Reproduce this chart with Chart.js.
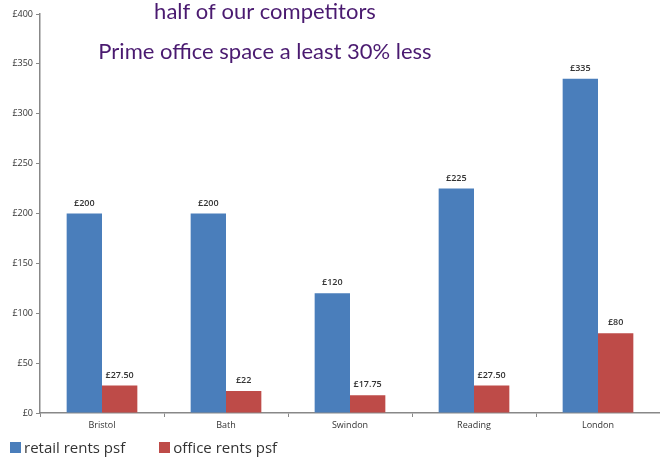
<!DOCTYPE html>
<html>
<head>
<meta charset="utf-8">
<script src="https://cdn.jsdelivr.net/npm/chart.js@4"></script>
<style>
  body { margin: 0; background: #fff; }
  #wrap { width: 660px; height: 459px; position: relative; }
  #legend { position: absolute; left: 10px; top: 437px; font: 15px "Open Sans"; color: #333; display: flex; }
  #legend span.item { display: flex; align-items: center; margin-right: 34px; }
  #legend i { display: inline-block; width: 11px; height: 11px; margin-right: 3px; }
</style>
</head>
<body>
<div id="wrap"><canvas id="rentChart"></canvas><div id="legend"></div></div>
<script>
const towns = ['Bristol', 'Bath', 'Swindon', 'Reading', 'London'];
const retailRents = [200, 200, 120, 225, 335];
const officeRents = [27.5, 22, 17.75, 27.5, 80];
const retailLabels = ['£200', '£200', '£120', '£225', '£335'];
const officeLabels = ['£27.50', '£22', '£17.75', '£27.50', '£80'];
const titleLines = ['half of our competitors', 'Prime office space a least 30% less'];

const barLabels = {
    id: 'barLabels',
    afterDatasetsDraw(chart) {
        const ctx = chart.ctx;
        ctx.save();
        ctx.font = '600 9px "Open Sans"';
        ctx.fillStyle = '#333';
        ctx.textAlign = 'center';
        ctx.textBaseline = 'bottom';
        const texts = [retailLabels, officeLabels];
        chart.data.datasets.forEach((ds, i) => {
            chart.getDatasetMeta(i).data.forEach((bar, j) => {
                ctx.fillText(texts[i][j], bar.x, bar.y - 6);
            });
        });
        ctx.restore();
    }
};

const headline = {
    id: 'headline',
    afterDraw(chart) {
        const ctx = chart.ctx;
        ctx.save();
        ctx.font = '22px Lato';
        ctx.fillStyle = '#4a1a70';
        ctx.textAlign = 'center';
        ctx.textBaseline = 'middle';
        ctx.fillText(titleLines[0], 265, 12);
        ctx.fillText(titleLines[1], 265, 52);
        ctx.restore();
    }
};

const chart = new Chart(document.getElementById('rentChart'), {
    type: 'bar',
    data: {
        labels: towns,
        datasets: [
            { label: 'retail rents psf', data: retailRents, backgroundColor: '#4a7ebb' },
            { label: 'office rents psf', data: officeRents, backgroundColor: '#be4b48' }
        ]
    },
    options: {
        responsive: true,
        maintainAspectRatio: false,
        animation: false,
        layout: { padding: { top: 14, left: 0, right: 0, bottom: 24 } },
        datasets: { bar: { categoryPercentage: 0.57, barPercentage: 1 } },
        plugins: {
            legend: { display: false },
            tooltip: { enabled: false }
        },
        scales: {
            x: {
                grid: { drawOnChartArea: false, color: '#888', tickLength: 4 },
                border: { color: '#888', width: 1.5 },
                ticks: { color: '#333', font: { family: 'Open Sans', size: 9 } },
                afterFit(scale) { scale.height = 22; }
            },
            y: {
                min: 0, max: 400,
                grid: { drawOnChartArea: false, color: '#888', tickLength: 4 },
                border: { color: '#888', width: 1.5 },
                ticks: {
                    stepSize: 50,
                    color: '#333',
                    font: { family: 'Open Sans', size: 9 },
                    callback: v => '£' + v
                },
                afterFit(scale) { scale.width = 40; }
            }
        }
    },
    plugins: [barLabels, headline]
});

const legendEl = document.getElementById('legend');
chart.data.datasets.forEach(ds => {
    const item = document.createElement('span');
    item.className = 'item';
    const box = document.createElement('i');
    box.style.background = ds.backgroundColor;
    item.appendChild(box);
    item.appendChild(document.createTextNode(ds.label));
    legendEl.appendChild(item);
});
</script>
</body>
</html>
